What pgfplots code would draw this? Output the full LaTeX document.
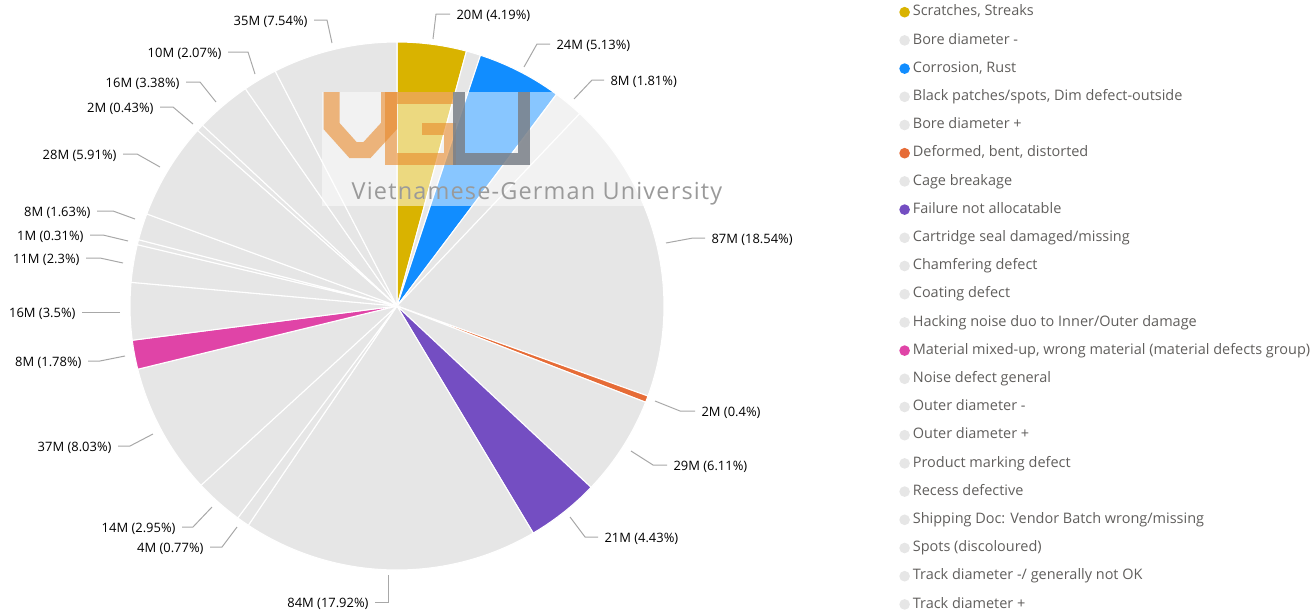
\documentclass[border=0pt]{standalone}
\usepackage{pgfplots}
\pgfplotsset{compat=1.18}
\usepackage{pgfplotstable}
\usepackage{fontspec}
\setmainfont{Open Sans}
\newfontfamily\wmfont[LetterSpace=5]{Open Sans}
\definecolor{txt}{HTML}{605E5C}
\definecolor{lead}{HTML}{A8A8A8}
\definecolor{grey}{HTML}{E6E6E6}
\definecolor{scratch}{HTML}{D9B300}
\definecolor{corr}{HTML}{118DFF}
\definecolor{deform}{HTML}{E66C37}
\definecolor{fail}{HTML}{744EC2}
\definecolor{mat}{HTML}{E044A7}
\definecolor{wmorange}{HTML}{E8892A}
\definecolor{wmgrey}{HTML}{7A8088}
\definecolor{wmtext}{HTML}{9A9A9A}

% defect category; value (M); share (%); colour
\pgfplotstableread[col sep=semicolon]{
name;val;pct;col
Scratches, Streaks;20;4.19;scratch
Bore diameter -;4;0.87;grey
Corrosion, Rust;24;5.13;corr
Black patches/spots, Dim defect-outside;8;1.81;grey
Bore diameter +;87;18.54;grey
Deformed, bent, distorted;2;0.40;deform
Cage breakage;29;6.11;grey
Failure not allocatable;21;4.43;fail
Cartridge seal damaged/missing;84;17.92;grey
Chamfering defect;4;0.77;grey
Coating defect;14;2.95;grey
Hacking noise duo to Inner/Outer damage;37;8.03;grey
Material mixed-up, wrong material (material defects group);8;1.78;mat
Noise defect general;16;3.50;grey
Outer diameter -;11;2.30;grey
Outer diameter +;1;0.31;grey
Product marking defect;8;1.63;grey
Recess defective;28;5.91;grey
Shipping Doc: Vendor Batch wrong/missing;2;0.43;grey
Spots (discoloured);16;3.38;grey
Track diameter -/ generally not OK;10;2.07;grey
Track diameter +;35;7.54;grey
}\slices

\begin{document}
\begin{tikzpicture}
\begin{axis}[
  name=ax,
  scale only axis,
  width=984.75pt, height=460.5pt,
  xmin=0, xmax=1313, ymin=0, ymax=614,
  y dir=reverse,
  hide axis,
  clip=false,
  legend style={at={(axis cs:899,5)}, anchor=north west, draw=none, fill=none,
    font=\fontsize{10.85}{12}\selectfont, text=txt, inner sep=0pt,
    row sep=10.15pt, column sep=2.2pt,
    nodes={inner sep=0pt, text height=8pt, text depth=3pt}},
  legend cell align=left,
  legend image code/.code={\path[#1, draw=none] (4pt,0.3pt) circle[radius=4pt];},
  every node/.append style={text=txt},
]
\pgfplotstablegetrowsof{\slices}
\pgfmathtruncatemacro\nlast{\pgfplotsretval-1}
\def\cum{0}
\pgfplotsforeachungrouped \i in {0,...,\nlast}{%
  \pgfplotstablegetelem{\i}{pct}\of\slices \let\p\pgfplotsretval
  \pgfplotstablegetelem{\i}{col}\of\slices \let\c\pgfplotsretval
  \pgfplotstablegetelem{\i}{name}\of\slices \let\nm\pgfplotsretval
  \pgfmathsetmacro\a{\cum*3.6}%
  \pgfmathsetmacro\b{(\cum+\p)*3.6}%
  \edef\tmp{\noexpand\addplot[fill=\c, draw=white, line width=0.8pt, domain=\a:\b, samples=60]
     ({397+267*sin(x)},{306-264*cos(x)}) -- (axis cs:397,306) -- cycle;
     \noexpand\addlegendentry{\nm}}%
  \tmp
  \pgfmathsetmacro\cum{\cum+\p}%
}

% watermark
\fill[white, opacity=0.5] (322,92) rectangle (722,206);
\draw[wmorange, opacity=0.6, line width=12pt] (331.5,92) -- (331.5,126) -- (353,150) -- (367,150) -- (389,126) -- (389,92);
\draw[wmorange, opacity=0.6, line width=9pt] (453,98) -- (391,98) -- (391,159) -- (450,159) -- (450,129) -- (422,129);
\draw[wmgrey, opacity=0.85, line width=9pt] (459,92) -- (459,159) -- (524,159) -- (524,92);
\node[text=wmtext, font=\wmfont\fontsize{17.6}{19}\selectfont, anchor=base] at (537,199) {Vietnamese-German University};

% data labels with leader lines
\tikzset{ldr/.style={draw=lead, line width=0.75pt},
  lr/.style={anchor=west, inner xsep=4.5pt, inner ysep=0pt, yshift=-1.6pt, font=\fontsize{9.7}{11}\selectfont},
  ll/.style={anchor=east, inner xsep=4.5pt, inner ysep=0pt, yshift=-1.6pt, font=\fontsize{9.7}{11}\selectfont}}
\draw[ldr] (433,39)--(436,14)--(450,14) node[lr] {20M (4.19\%)};
\draw[ldr] (524,67)--(537,44)--(550,44) node[lr] {24M (5.13\%)};
\draw[ldr] (574,99)--(592,80)--(604,80) node[lr] {8M (1.81\%)};
\draw[ldr] (666,243)--(693,238)--(705,238) node[lr] {87M (18.54\%)};
\draw[ldr] (655,401)--(680,411)--(695,411) node[lr] {2M (0.4\%)};
\draw[ldr] (631,451)--(653,465)--(667,465) node[lr] {29M (6.11\%)};
\draw[ldr] (570,517)--(585,537)--(598,537) node[lr] {21M (4.43\%)};
\draw[ldr] (388,575)--(388,602)--(375,602) node[ll] {84M (17.92\%)};
\draw[ldr] (237,527)--(222,547)--(210,547) node[ll] {4M (0.77\%)};
\draw[ldr] (212,507)--(193,527)--(182,527) node[ll] {14M (2.95\%)};
\draw[ldr] (153,434)--(130,446)--(118,446) node[ll] {37M (8.03\%)};
\draw[ldr] (125,356)--(100,361)--(88,361) node[ll] {8M (1.78\%)};
\draw[ldr] (120,312)--(82,312) node[ll] {16M (3.5\%)};
\draw[ldr] (123,263)--(100,258)--(86,258) node[ll] {11M (2.3\%)};
\draw[ldr] (128,241)--(103,235)--(90,235) node[ll] {1M (0.31\%)};
\draw[ldr] (135,219)--(113,211)--(97,211) node[ll] {8M (1.63\%)};
\draw[ldr] (160,167)--(137,154)--(123,154) node[ll] {28M (5.91\%)};
\draw[ldr] (193,124)--(173,107)--(160,107) node[ll] {2M (0.43\%)};
\draw[ldr] (216,102)--(200,82)--(186,82) node[ll] {16M (3.38\%)};
\draw[ldr] (255,74)--(248,52)--(228,52) node[ll] {10M (2.07\%)};
\draw[ldr] (332,43)--(327,20)--(314,20) node[ll] {35M (7.54\%)};
\end{axis}
\pgfresetboundingbox
\path[use as bounding box] (ax.south west) rectangle (ax.north east);
\end{tikzpicture}
\end{document}
